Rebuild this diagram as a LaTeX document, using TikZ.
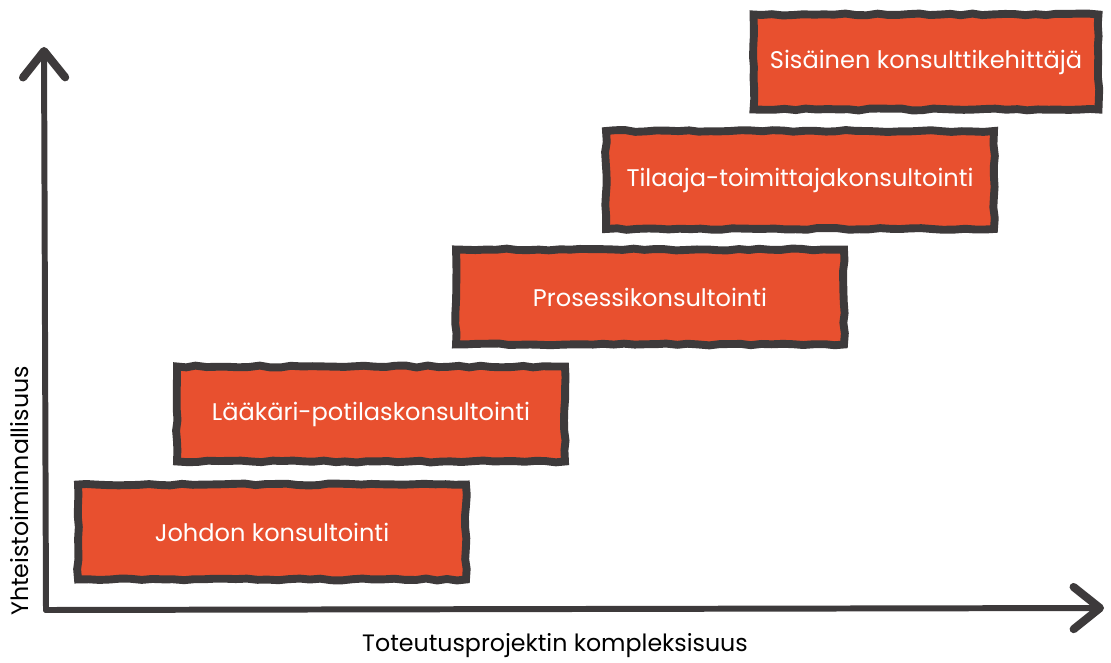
\documentclass[tikz,border=0pt]{standalone}
\usepackage{fontspec}
\setmainfont{Poppins}
\usetikzlibrary{arrows.meta,decorations.pathmorphing}
\definecolor{boxred}{HTML}{E8502F}
\definecolor{inkgray}{HTML}{3D3A3B}
\begin{document}
\begin{tikzpicture}[
        x=0.02cm, y=-0.02cm,
        axis/.style={line width=3.4pt, inkgray, line cap=round,
            -{Straight Barb[length=15pt, width=24pt, line width=4.6pt, round]}},
        stage/.style={rectangle, draw=inkgray, fill=boxred, line width=4.5pt,
            minimum width=7.76cm, minimum height=1.9cm, inner sep=0pt,
            text=white, font=\fontsize{13.7}{16}\selectfont,
            decorate, decoration={random steps, segment length=6pt, amplitude=0.55pt}},
        axislabel/.style={font=\fontsize{13.5}{16}\selectfont, text=black}
    ]
        \pgfmathsetseed{7}
        \useasboundingbox (0,0) rectangle (1111,662);

        % Axes
        \coordinate (origin) at (46,610);
        \coordinate (ytip) at (44,47);
        \coordinate (xtip) at (1104,608);
        \draw[axis] (origin) -- (ytip);
        \draw[axis] (origin) -- (xtip);
        \node[axislabel] (xlab) at (555,646) {Toteutusprojektin kompleksisuus};
        \node[axislabel, rotate=90] (ylab) at (20,491) {Yhteistoiminnallisuus};

        % Stages
        \node[stage] (johto) at (272,532) {Johdon konsultointi};
        \node[stage] (laakari) at (371,414) {Lääkäri-potilaskonsultointi};
        \node[stage] (prosessi) at (650,297) {Prosessikonsultointi};
        \node[stage, minimum height=1.96cm] (tilaaja) at (800,180) {Tilaaja-toimittajakonsultointi};
        \node[stage, minimum width=6.9cm] (sisainen) at (926,62) {Sisäinen konsulttikehittäjä};
    \end{tikzpicture}
\end{document}
